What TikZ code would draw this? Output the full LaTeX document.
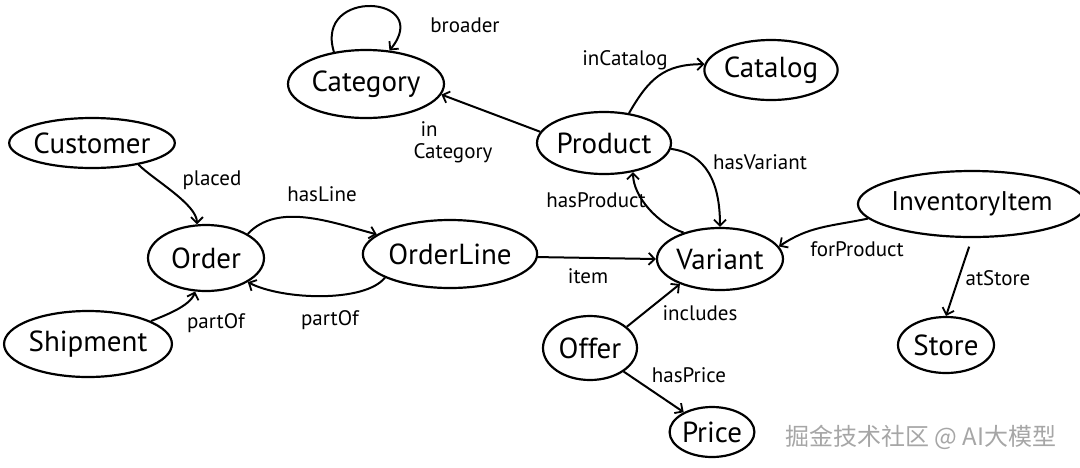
\documentclass[tikz,border=0pt]{standalone}
\usepackage{fontspec}
\setmainfont{PT Sans}
\newfontfamily\cjkfont{Noto Sans CJK SC}
\usetikzlibrary{arrows.meta,shapes.geometric}
\tikzset{
  ent/.style={draw, ellipse, line width=2.2pt, inner sep=0pt, font=\fontsize{29}{31}\selectfont},
  rel/.style={font=\fontsize{21}{22}\selectfont, inner sep=1pt, align=center},
  arr/.style={line width=2pt, -{Straight Barb[length=6pt,width=12pt,line width=1.8pt]}},
}
\begin{document}
\begin{tikzpicture}[x=1pt,y=-1pt]
\useasboundingbox (0,0) rectangle (1080,467);
% entities
\node[ent, minimum width=156pt, minimum height=68pt] (cat) at (366,84) {Category};
\node[ent, minimum width=126pt, minimum height=60pt] (catalog) at (771,70) {Catalog};
\node[ent, minimum width=128pt, minimum height=62pt] (prod) at (604,143) {Product};
\node[ent, minimum width=150pt, minimum height=50pt] (cust) at (92,143) {Customer};
\node[ent, minimum width=116pt, minimum height=66pt] (order) at (206,258) {Order};
\node[ent, minimum width=156pt, minimum height=66pt] (ship) at (88,344) {Shipment};
\node[ent, minimum width=150pt, minimum height=68pt] (oline) at (450,254) {OrderLine};
\node[ent, minimum width=126pt, minimum height=62pt] (var) at (720,259) {Variant};
\node[ent, minimum width=94pt, minimum height=64pt] (offer) at (590,348) {Offer};
\node[ent, minimum width=84pt, minimum height=50pt] (price) at (712,432) {Price};
\node[ent, minimum width=200pt, minimum height=66pt, font=\fontsize{27}{29}\selectfont] (inv) at (972,204) {InventoryItem};
\node[ent, minimum width=96pt, minimum height=56pt] (store) at (946,345) {Store};
% connectors
\draw[arr] (cat.135) .. controls +(-20,-65) and +(45,-55) .. (cat.55);
\draw[arr] (prod.170) -- (cat.-8);
\draw[arr] (prod.50) .. controls +(20,-35) and +(-40,0) .. (catalog.175);
\draw[arr] (prod.-5) .. controls +(35,5) and +(0,-45) .. (var.north);
\draw[arr] (var.144) .. controls +(-25,-8) and +(0,25) .. (prod.-45);
\draw[arr] (cust.-25) .. controls +(15,15) and +(0,-20) .. (order.105);
\draw[arr] (order.30) .. controls +(30,-32) and +(-45,-12) .. (oline.165);
\draw[arr] (oline.200) .. controls +(-20,25) and +(35,18) .. (order.-30);
\draw[arr] (ship.20) .. controls +(12,-5) and +(-5,15) .. (order.-108);
\draw[arr] (oline.-2) -- (var.west);
\draw[arr] (offer.30) -- (var.212);
\draw[arr] (offer.-35) -- (price.145);
\draw[arr] (inv.188) .. controls +(-40,8) and +(30,-20) .. (var.12);
\draw[arr, shorten <=9pt] (inv.south) -- (store.north);
% labels
\node[rel] (lbroader) at (465,25) {broader};
\node[rel, align=left] (lincat) at (453,142) {\,\,in\\Category};
\node[rel] (lincatalog) at (625,60) {inCatalog};
\node[rel] (lhasvar) at (760,162) {hasVariant};
\node[rel] (lhasprod) at (596,200) {hasProduct};
\node[rel] (lplaced) at (212,180) {placed};
\node[rel] (lhasline) at (322,194) {hasLine};
\node[rel] (lpartof1) at (330,320) {partOf};
\node[rel] (lpartof2) at (216,323) {partOf};
\node[rel] (litem) at (588,276) {item};
\node[rel] (lincl) at (700,313) {includes};
\node[rel] (lhasprice) at (689,375) {hasPrice};
\node[rel] (lforprod) at (857,249) {forProduct};
\node[rel] (latstore) at (998,278) {atStore};
% watermark
\node[text=gray!70, font=\cjkfont\fontsize{24}{26}\selectfont, inner sep=0pt] (wm) at (921,437) {掘金技术社区 @ AI大模型};
\end{tikzpicture}
\end{document}
